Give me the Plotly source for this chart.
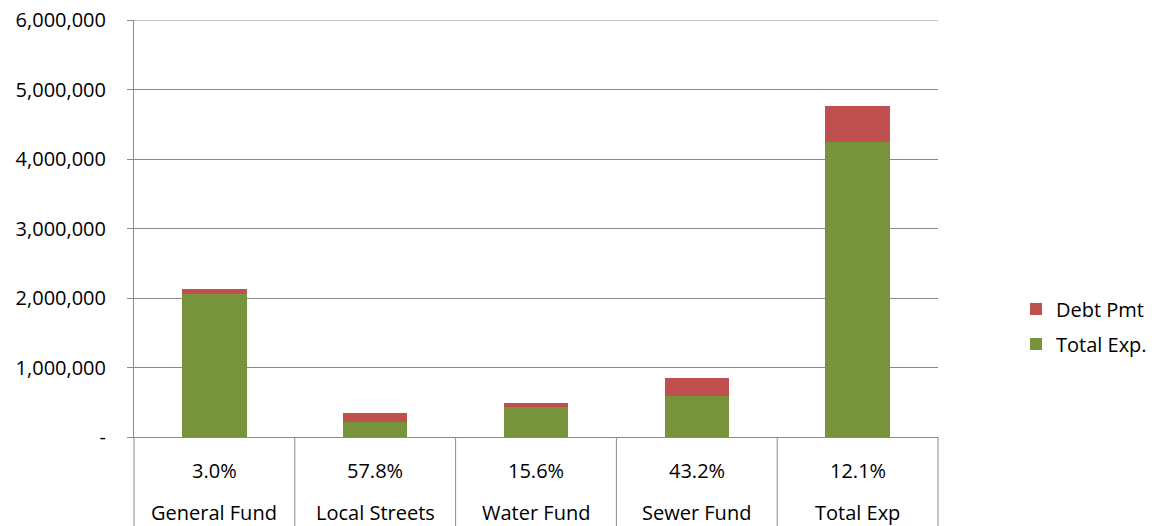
import plotly.graph_objects as go

categories = ["General Fund", "Local Streets", "Water Fund", "Sewer Fund", "Total Exp"]
pct_labels = ["3.0%", "57.8%", "15.6%", "43.2%", "12.1%"]
total_exp = [2062000, 222000, 425000, 588000, 4250000]
debt_pmt = [62000, 128000, 66000, 254000, 515000]
y_ticks = [0, 1000000, 2000000, 3000000, 4000000, 5000000, 6000000]
y_ticktext = ["-", "1,000,000", "2,000,000", "3,000,000", "4,000,000", "5,000,000", "6,000,000"]
y_max = 6000000

GREEN = "#77933C"
RED = "#C0504D"
GRID = "#8A8A8A"
FONT = "Open Sans"
FS = 20

# page body has an 8px margin, so the figure is 8px smaller than the window
W, H = 1148, 518
ML, MR, MT, MB = 126, 218, 12, 89
plot_h = H - MT - MB
plot_w = W - ML - MR

fig = go.Figure()
fig.add_trace(go.Bar(x=categories, y=total_exp, name="Total Exp.",
                     marker=dict(color=GREEN, line=dict(width=0)),
                     width=0.4, legendgroup="a", legendrank=2))
fig.add_trace(go.Bar(x=categories, y=debt_pmt, name="Debt Pmt",
                     marker=dict(color=RED, line=dict(width=0)),
                     width=0.4, legendgroup="b", legendrank=1))

annotations = []
for c, p in zip(categories, pct_labels):
    annotations.append(dict(x=c, xref="x", y=0, yref="paper", text=p, showarrow=False,
                            yanchor="middle", xanchor="center", yshift=-33,
                            font=dict(family=FONT, size=FS, color="#000000")))
    annotations.append(dict(x=c, xref="x", y=0, yref="paper", text=c, showarrow=False,
                            yanchor="middle", xanchor="center", yshift=-75,
                            font=dict(family=FONT, size=FS, color="#000000")))

shapes = []
n = len(categories)
for k in range(n + 1):
    shapes.append(dict(type="line", xref="paper", yref="paper", x0=k / n, x1=k / n,
                       y0=0, y1=-MB / plot_h, line=dict(color=GRID, width=1)))
# top gridline (plotly skips the grid line at the range edge)
shapes.append(dict(type="line", xref="paper", yref="y", x0=0, x1=1, y0=y_max, y1=y_max,
                   line=dict(color=GRID, width=1), layer="below"))

fig.update_layout(
    width=W, height=H,
    barmode="stack",
    plot_bgcolor="white", paper_bgcolor="white",
    margin=dict(l=ML, r=MR, t=MT, b=MB, autoexpand=False),
    font=dict(family=FONT, size=FS, color="#000000"),
    xaxis=dict(range=[-0.5, 4.5], showticklabels=False, ticks="", showgrid=False,
               showline=True, linecolor=GRID, linewidth=1, zeroline=False),
    yaxis=dict(range=[0, y_max], tickvals=y_ticks, ticktext=y_ticktext,
               showgrid=True, gridcolor=GRID, gridwidth=1,
               showline=True, linecolor=GRID, linewidth=1,
               ticks="outside", ticklen=6, tickcolor=GRID,
               ticklabelstandoff=17, ticklabeloverflow="allow", zeroline=False,
               tickfont=dict(family=FONT, size=FS, color="#000000")),
    legend=dict(x=(1008 - ML) / plot_w, xanchor="left", y=0.265, yanchor="middle",
                traceorder="grouped", tracegroupgap=6,
                font=dict(family=FONT, size=FS, color="#000000"),
                bgcolor="rgba(0,0,0,0)"),
    annotations=annotations,
    shapes=shapes,
    bargap=0.6,
)

fig.write_html("out.html")
